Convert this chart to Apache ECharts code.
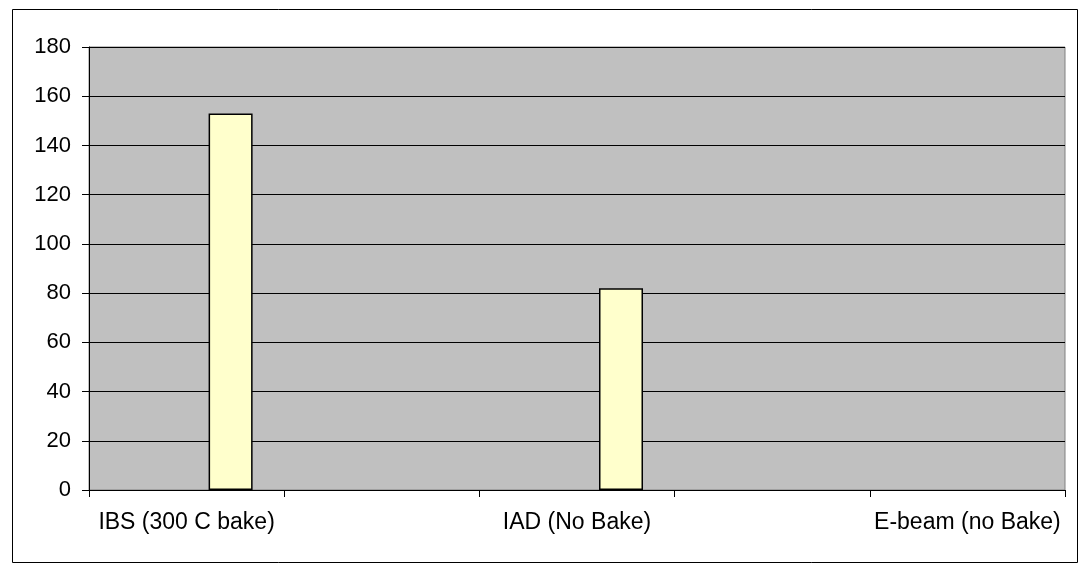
<!DOCTYPE html>
<html>
<head>
<meta charset="utf-8">
<script src="https://cdn.jsdelivr.net/npm/echarts@6/dist/echarts.min.js"></script>
<style>
  html, body { margin: 0; padding: 0; background: #ffffff; }
  #chart { width: 1083px; height: 568px; }
</style>
</head>
<body>
<div id="chart"></div>
<script>
// Process categories (every other slot is an unlabeled category)
const categories = ['IBS (300 C bake)', '', 'IAD (No Bake)', '', 'E-beam (no Bake)'];

// Three clustered series; only the third one carries values
const series1Values = [null, null, null, null, null];
const series2Values = [null, null, null, null, null];
const series3Values = [153, null, 82, null, null];

// Value axis range
const yMin = 0;
const yMax = 180;
const yStep = 20;

const FONT = 'Arial, "Liberation Sans", sans-serif';

const chart = echarts.init(document.getElementById('chart'), null, { renderer: 'canvas' });

const barStyle = {
  color: '#FFFFCC',
  borderColor: '#000000',
  borderWidth: 1.5
};

chart.setOption({
  animation: false,
  backgroundColor: '#ffffff',
  graphic: [
    {
      type: 'rect',
      shape: { x: 12.5, y: 9.5, width: 1065, height: 553 },
      style: { fill: 'none', stroke: '#000000', lineWidth: 1 },
      z: 0
    }
  ],
  grid: {
    left: 89,
    top: 47,
    right: 18,
    bottom: 78,
    show: true,
    backgroundColor: '#C0C0C0',
    borderColor: '#808080',
    borderWidth: 1
  },
  xAxis: {
    type: 'category',
    data: categories,
    boundaryGap: true,
    axisLine: { show: true, lineStyle: { color: '#000000', width: 1 } },
    axisTick: { show: true, alignWithLabel: false, interval: 0, length: 7, lineStyle: { color: '#000000' } },
    axisLabel: { interval: 0, color: '#000000', fontFamily: FONT, fontSize: 23, margin: 21 },
    splitLine: { show: false }
  },
  yAxis: {
    type: 'value',
    min: yMin,
    max: yMax,
    interval: yStep,
    axisLine: { show: true, lineStyle: { color: '#000000', width: 1 } },
    axisTick: { show: true, length: 7, lineStyle: { color: '#000000' } },
    axisLabel: { color: '#000000', fontFamily: FONT, fontSize: 22, margin: 18 },
    splitLine: { show: true, lineStyle: { color: '#000000', width: 1 } }
  },
  series: [
    { name: 'Series1', type: 'bar', data: series1Values, barWidth: 44, barGap: '0%', itemStyle: barStyle },
    { name: 'Series2', type: 'bar', data: series2Values, barWidth: 44, barGap: '0%', itemStyle: barStyle },
    { name: 'Series3', type: 'bar', data: series3Values, barWidth: 44, barGap: '0%', itemStyle: barStyle }
  ]
});
</script>
</body>
</html>
